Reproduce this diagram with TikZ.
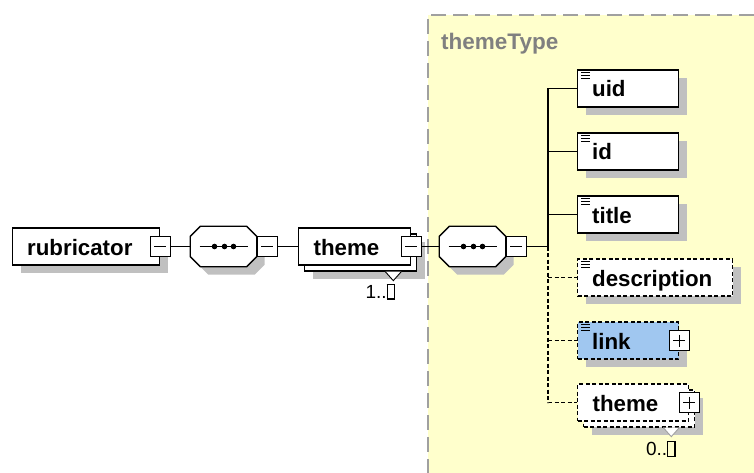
\documentclass[tikz,border=0pt]{standalone}
\usepackage{fontspec}
\setmainfont{Liberation Sans}
\usetikzlibrary{shadows}
\definecolor{typefill}{RGB}{255,255,204}
\definecolor{typeline}{RGB}{160,160,160}
\definecolor{typetext}{RGB}{128,128,128}
\definecolor{linkfill}{RGB}{160,199,240}
\definecolor{shadegray}{RGB}{192,192,192}
\newcommand{\nobox}{{\setlength{\fboxsep}{0pt}\setlength{\fboxrule}{1.2pt}\fbox{\rule{0pt}{13.5pt}\hspace{6pt}}}}
% octagon of a sequence compositor, round a named node
\newcommand{\seqpath}[1]{([xshift=10pt]#1.north west) -- ([xshift=-10pt]#1.north east) -- ([yshift=-10pt]#1.north east)
  -- ([yshift=10pt]#1.south east) -- ([xshift=-10pt]#1.south east) -- ([xshift=10pt]#1.south west)
  -- ([yshift=10pt]#1.south west) -- ([yshift=-10pt]#1.north west) -- cycle}

\tikzset{
  elem/.style={draw, line width=1.3pt, fill=white, minimum height=37pt, inner xsep=14.5pt, inner ysep=0pt,
    text height=17pt, text depth=0pt, align=left, anchor=west, font=\fontsize{22.3}{24}\selectfont\bfseries},
  opt/.style={dash pattern=on 4pt off 2.5pt},
  boxshadow/.style={drop shadow={shadow xshift=#1, shadow yshift=-#1, fill=shadegray, opacity=1}},
  boxshadow/.default=8pt,
  multi/.style={copy shadow={shadow xshift=6pt, shadow yshift=-6pt, draw=black, fill=white, line width=1.3pt, #1}},
  multi/.default={},
  seq/.style={minimum width=66pt, minimum height=40pt, inner sep=0pt},
  pmbox/.style={draw, line width=1.2pt, fill=white, minimum size=20pt, inner sep=0pt},
  collapsebox/.style={pmbox, path picture={
    \draw[line width=1.2pt] ([xshift=4pt]path picture bounding box.west) -- ([xshift=-4pt]path picture bounding box.east);}},
  expandbox/.style={pmbox, path picture={
    \draw[line width=1.2pt] ([xshift=4pt]path picture bounding box.west) -- ([xshift=-4pt]path picture bounding box.east);
    \draw[line width=1.2pt] ([yshift=-4pt]path picture bounding box.north) -- ([yshift=4pt]path picture bounding box.south);}},
  wire/.style={line width=1.3pt},
  notch/.style={draw, fill=white, line width=0.9pt},
  occ/.style={inner sep=0pt, font=\fontsize{19}{21}\selectfont},
  typelabel/.style={inner sep=0pt, text=typetext, font=\fontsize{22.5}{24}\selectfont\bfseries}
}

\begin{document}
\begin{tikzpicture}[x=1pt,y=-1pt]
  \useasboundingbox (0,0) rectangle (754,473);

  % complex type area
  \fill[typefill] (428,15) rectangle (754,473);
  \draw[typeline, line width=1.3pt, dash pattern=on 15pt off 7pt] (754,15) -- (428,15) -- (428,473);
  \node[typelabel, anchor=base west] (typename) at (441,49.5) {themeType};

  % main row
  \node[elem, boxshadow, text width=118pt] (rubricator) at (12,246.5) {rubricator};
  \node[collapsebox] (rubm) at (rubricator.east) {};
  \node[seq] (seq1) at (223.5,246.5) {};
  \node[seq] (seq2) at (472.5,246.5) {};
  \foreach \s in {seq1,seq2} {
    \fill[shadegray, transform canvas={shift={(8pt,-8pt)}}] \seqpath{\s};
    \draw[fill=white, line width=1.3pt] \seqpath{\s};
    \draw[wire] ([xshift=-24pt]\s.center) -- ([xshift=24pt]\s.center);
    \foreach \d in {-9,1,10}
      \fill ([xshift=\d pt]\s.center) circle (2.8pt);
  }
  \node[collapsebox, anchor=west] (seq1m) at (seq1.east) {};
  \node[elem, boxshadow=14pt, multi, inner xsep=15pt, text width=82pt] (theme) at (298,246.5) {theme};
  \node[collapsebox] (themem) at (theme.east) {};
  \node[collapsebox, anchor=west] (seq2m) at (seq2.east) {};
  \coordinate (spine) at (548,246.5);

  % children of the sequence
  \node[elem, boxshadow, text width=72pt] (uid) at (577,88.5) {uid};
  \node[elem, boxshadow, text width=72pt] (id) at (577,151.5) {id};
  \node[elem, boxshadow, text width=72pt] (title) at (577,214.5) {title};
  \node[elem, opt, boxshadow, text width=126pt] (description) at (577,277.5) {description};
  \node[elem, opt, fill=linkfill, boxshadow, text width=72pt] (link) at (577,340.5) {link};
  \node[expandbox] (linkp) at (link.east) {};
  \node[elem, opt, boxshadow=14pt, multi={opt}, inner xsep=15pt, text width=81pt] (theme2) at (577,402.5) {theme};
  \node[expandbox] (theme2p) at (theme2.east) {};

  % element icons
  \foreach \n in {uid,id,title,description,link}
    \foreach \k in {3.5,6.5,9.5}
      \draw[line width=0.9pt] ([xshift=4pt,yshift=-\k pt]\n.north west) -- ++(9,0);

  % connectors
  \draw[wire] (rubm) -- (seq1);
  \draw[wire] (seq1m) -- (theme);
  \draw[wire] (themem) -- (seq2);
  \draw[wire] (seq2m) -- (spine);
  \draw[wire] (uid) -| (spine);
  \draw[wire] (id) -- (id -| spine);
  \draw[wire] (title) -- (title -| spine);
  \draw[wire, opt] (spine) |- (theme2);
  \draw[wire, opt] (description -| spine) -- (description);
  \draw[wire, opt] (link -| spine) -- (link);

  % occurrences
  \draw[notch] ([xshift=-26pt,yshift=-6pt]theme.south east) -- ++(8,9) -- ++(8,-9);
  \node[occ] (themeocc) at ([xshift=-31pt,yshift=-26pt]theme.south east) {1..\nobox};
  \draw[notch, draw=typeline] ([xshift=-26pt,yshift=-6pt]theme2.south east) -- ++(8,9) -- ++(8,-9);
  \node[occ] (theme2occ) at ([xshift=-28.5pt,yshift=-27.5pt]theme2.south east) {0..\nobox};
\end{tikzpicture}
\end{document}
